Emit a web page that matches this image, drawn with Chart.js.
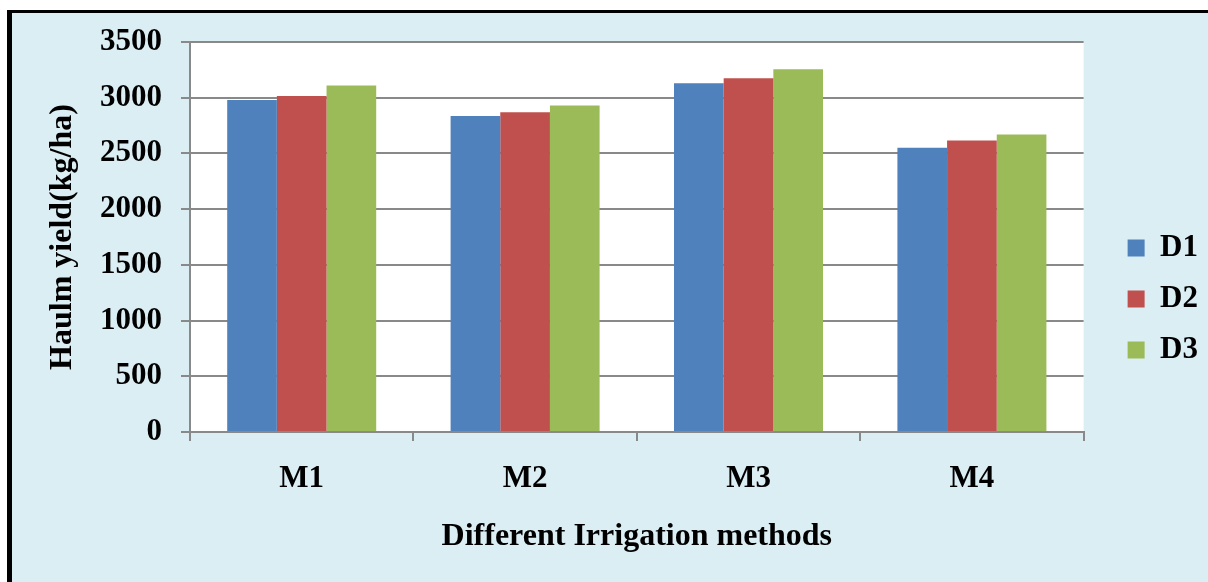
<!DOCTYPE html>
<html lang="en">
<head>
    <meta charset="UTF-8">
    <title>Haulm yield</title>
    <script src="https://cdn.jsdelivr.net/npm/chart.js"></script>
    <style>
        html, body { margin: 0; padding: 0; background: #ffffff; }
        body { width: 1208px; height: 582px; overflow: hidden; position: relative; }
        #moldura {
            position: absolute; left: 7px; top: 10px; width: 1220px; height: 600px;
            background: #DBEEF4; border-left: 5px solid #000; border-top: 3px solid #000;
        }
        #grafico { position: absolute; left: 0; top: 0; width: 1208px; height: 582px; }
    </style>
</head>
<body>
    <div id="moldura"></div>
    <div id="grafico">
        <canvas id="grafico-info" width="1208" height="582"></canvas>
    </div>
    <script>
        const metodos = ['M1', 'M2', 'M3', 'M4'];
        const d1 = [2980, 2835, 3130, 2550];
        const d2 = [3015, 2870, 3175, 2615];
        const d3 = [3110, 2930, 3255, 2670];

        const cinza = '#898989';
        const fonte = 'Liberation Serif, Times New Roman, serif';

        const fundoBranco = {
            id: 'fundoBranco',
            beforeDraw(chart) {
                const a = chart.chartArea;
                const ctx = chart.ctx;
                ctx.save();
                ctx.fillStyle = '#ffffff';
                ctx.fillRect(a.left, a.top, a.right - a.left, a.bottom - a.top);
                ctx.restore();
            }
        };

        function criarGrafico() {
            const ctx = document.getElementById('grafico-info').getContext('2d');
            new Chart(ctx, {
                type: 'bar',
                data: {
                    labels: metodos,
                    datasets: [
                        { label: 'D1', data: d1, backgroundColor: '#4F81BD' },
                        { label: 'D2', data: d2, backgroundColor: '#C0504D' },
                        { label: 'D3', data: d3, backgroundColor: '#9BBB59' }
                    ]
                },
                options: {
                    responsive: false,
                    animation: false,
                    categoryPercentage: 0.667,
                    barPercentage: 1,
                    layout: { padding: { top: 42, bottom: 26, left: 0, right: 0 } },
                    plugins: {
                        tooltip: { enabled: false },
                        legend: {
                            position: 'right',
                            labels: {
                                boxWidth: 17,
                                boxHeight: 17,
                                padding: 20,
                                color: '#000',
                                font: { family: fonte, size: 31, weight: 'bold' }
                            }
                        }
                    },
                    scales: {
                        x: {
                            grid: { offset: true, drawOnChartArea: false, color: cinza, lineWidth: 2, tickLength: 9 },
                            border: { color: cinza, width: 2 },
                            ticks: { color: '#000', padding: 19, font: { family: fonte, size: 31, weight: 'bold' } },
                            title: {
                                display: true, text: 'Different Irrigation methods', color: '#000',
                                padding: 0, font: { family: fonte, size: 32, weight: 'bold' }
                            },
                            afterFit(s) { s.height = 124; }
                        },
                        y: {
                            min: 0, max: 3500,
                            ticks: {
                                stepSize: 500, color: '#000', padding: 19,
                                font: { family: fonte, size: 31, weight: 'bold' },
                                callback: v => String(v)
                            },
                            grid: { color: cinza, lineWidth: 2, tickLength: 9 },
                            border: { color: cinza, width: 2 },
                            title: {
                                display: true, text: 'Haulm yield(kg/ha)', color: '#000',
                                padding: { top: 44, bottom: 0 }, font: { family: fonte, size: 32, weight: 'bold' }
                            },
                            afterFit(s) { s.width = 190; }
                        },
                        espaco: {
                            type: 'linear', position: 'right', display: true,
                            grid: { display: false, drawTicks: false }, border: { display: false },
                            ticks: { display: false },
                            afterFit(s) { s.width = 24; }
                        }
                    }
                },
                plugins: [fundoBranco]
            });
        }

        window.onload = function() {
            criarGrafico();
        };
    </script>
</body>
</html>
